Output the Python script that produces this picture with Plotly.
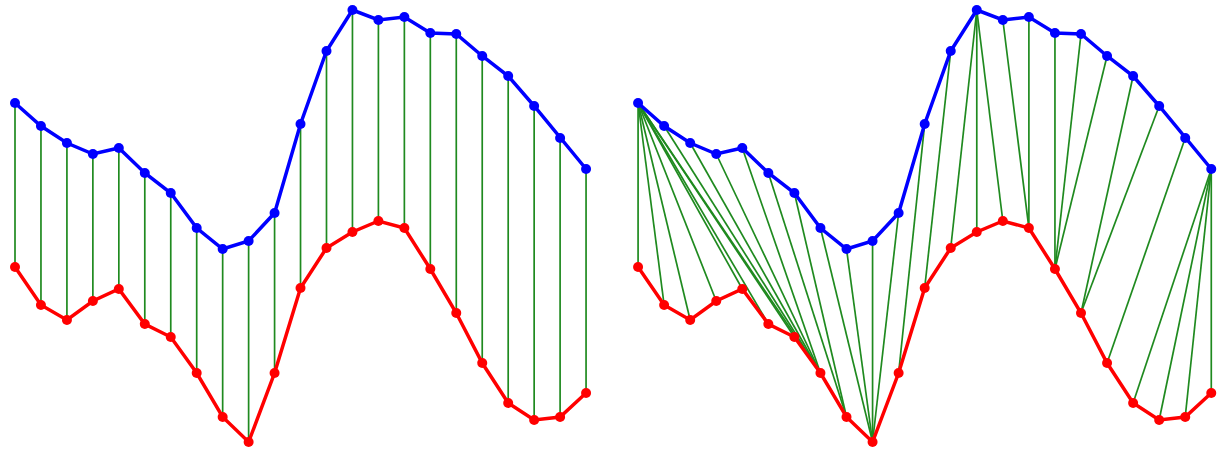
import plotly.graph_objects as go

# Two time series (heights above the bottom edge) sampled at 23 steps
blue_series = [347, 324, 307, 296, 302, 277, 257, 222, 201, 209, 237, 326,
               399, 440, 430, 433, 417, 416, 394, 374, 344, 312, 281]
red_series = [183, 145, 130, 149, 161, 126, 113, 77, 33, 8, 77, 162,
              202, 218, 229, 222, 181, 137, 87, 47, 30, 33, 57]

# Warping path (blue index, red index) for the dynamic time warping alignment
warp_blue = [0, 0, 0, 0, 0, 0, 0, 0, 1, 2, 3, 4, 5, 6, 7, 8, 9, 10, 11, 12,
             13, 13, 13, 14, 15, 16, 17, 18, 19, 20, 21, 22, 22, 22, 22]
warp_red = [0, 1, 2, 3, 4, 5, 6, 7, 7, 7, 7, 7, 8, 8, 9, 9, 9, 9, 10, 11,
            12, 13, 14, 15, 15, 16, 16, 16, 17, 17, 18, 19, 20, 21, 22]

steps = list(range(len(blue_series)))

BLUE = "#0000ff"
RED = "#ff0000"
GREEN = "#1f8a1f"


def link_segments(pairs_blue, pairs_red):
    xs, ys = [], []
    for i, j in zip(pairs_blue, pairs_red):
        xs += [steps[i], steps[j], None]
        ys += [blue_series[i], red_series[j], None]
    return xs, ys


fig = go.Figure()

panels = [
    ("x", "y", steps, steps),          # lock-step (Euclidean) matching
    ("x2", "y2", warp_blue, warp_red),  # DTW matching
]

for xa, ya, pb, pr in panels:
    lx, ly = link_segments(pb, pr)
    fig.add_trace(go.Scatter(
        x=lx, y=ly, mode="lines", xaxis=xa, yaxis=ya,
        line=dict(color=GREEN, width=1.7), hoverinfo="skip", showlegend=False,
    ))
    for series, color in ((blue_series, BLUE), (red_series, RED)):
        fig.add_trace(go.Scatter(
            x=steps, y=series, mode="lines+markers", xaxis=xa, yaxis=ya,
            line=dict(color=color, width=3.5),
            marker=dict(color=color, size=10),
            showlegend=False,
        ))

axis_off = dict(visible=False, showgrid=False, zeroline=False, fixedrange=True)

fig.update_layout(
    width=1223, height=450,
    margin=dict(l=0, r=0, t=0, b=0),
    paper_bgcolor="white", plot_bgcolor="white",
    xaxis=dict(domain=[0, 0.5], range=[-0.578, 22.98], **axis_off),
    xaxis2=dict(domain=[0.5, 1], range=[-1.02, 22.45], **axis_off),
    yaxis=dict(domain=[0, 1], range=[0, 450], **axis_off),
    yaxis2=dict(domain=[0, 1], range=[0, 450], anchor="x2", **axis_off),
)

fig.write_html("out.html")
